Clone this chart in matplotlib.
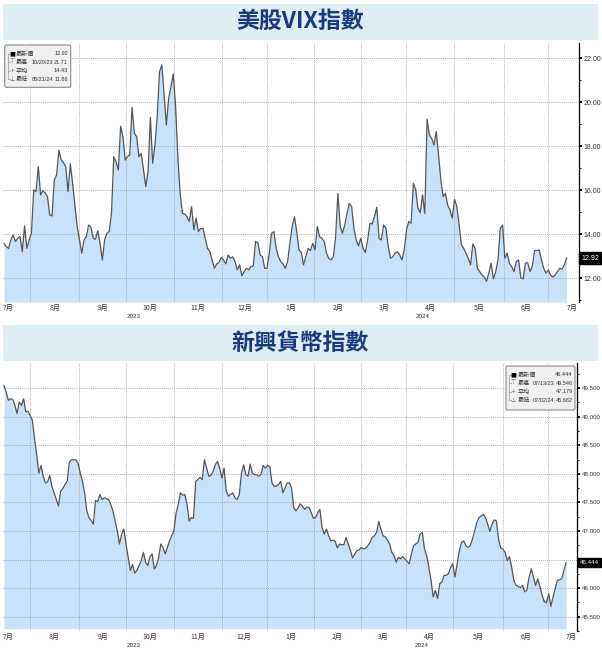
import numpy as np
import matplotlib
matplotlib.use('Agg')
import matplotlib.pyplot as plt
from matplotlib.patches import Rectangle, FancyBboxPatch
from matplotlib.lines import Line2D
from matplotlib.transforms import blended_transform_factory

plt.rcParams['font.family'] = ['Noto Sans CJK TC', 'DejaVu Sans']

# 美股VIX指數, daily closes
vix = [
    13.59, 13.44, 13.36, 13.74, 13.97, 13.67, 13.82, 13.89, 13.21, 14.38,
    13.36, 13.74, 14.05, 16.02, 15.94, 17.08, 15.79, 15.98, 15.89, 15.71,
    14.88, 14.83, 16.47, 16.70, 17.83, 17.38, 17.26, 17.08, 15.94, 17.20,
    16.32, 15.33, 14.35, 13.74, 13.14, 13.74, 13.89, 14.42, 14.32, 13.82,
    13.77, 14.17, 13.59, 12.83, 13.74, 14.05, 14.12, 14.95, 17.53, 17.30,
    16.92, 18.92, 18.44, 17.38, 17.53, 17.61, 19.77, 18.59, 18.44, 17.53,
    17.68, 16.92, 16.17, 16.85, 19.32, 17.23, 18.06, 19.35, 21.39, 21.71,
    20.33, 18.97, 20.18, 20.71, 21.29, 19.88, 17.53, 15.86, 14.95, 14.92,
    14.80, 14.58, 15.26, 14.20, 14.73, 14.12, 14.27, 14.27, 13.82, 13.36,
    13.21, 12.83, 12.45, 12.65, 12.71, 12.95, 12.83, 12.65, 13.06, 12.91,
    12.98, 12.76, 12.38, 12.61, 12.11, 12.30, 12.45, 12.38, 12.53, 12.56,
    13.67, 13.62, 13.06, 12.98, 12.45, 12.45, 13.14, 14.05, 14.12, 13.36,
    12.98, 12.76, 12.65, 12.45, 12.76, 13.59, 14.35, 14.80, 14.12, 13.29,
    13.17,
    12.61, 12.98, 13.36, 13.26, 13.59, 13.29, 14.35, 13.89, 13.82, 13.67,
    13.14, 12.91, 12.83, 12.98, 13.89, 15.86, 14.35, 14.05, 14.42, 14.95,
    15.41, 15.26, 14.27, 13.74, 13.47, 13.82, 13.36, 13.17, 13.74,
    14.50, 14.47, 14.80, 15.23, 13.82, 13.74, 14.42, 14.27,
    13.44, 12.91, 12.98, 13.14, 13.21, 13.06, 12.83, 13.29, 14.20, 14.58,
    14.50, 16.32, 16.02, 15.18, 14.98, 15.79, 14.95, 19.23, 18.52, 18.36,
    18.06, 18.67, 17.61, 16.47, 15.71, 15.86, 15.33, 15.11, 14.73, 15.59,
    15.26, 14.42, 13.52, 13.36, 13.14, 12.91, 12.61, 13.56, 13.36, 12.45,
    12.30, 12.15, 12.05, 11.86, 12.24, 12.68, 11.97, 12.30, 12.83, 14.27,
    14.42, 12.91, 13.14, 12.68, 12.53, 12.30, 12.76, 12.83, 12.02,
    11.97, 12.68, 12.71, 12.30, 12.53, 13.26, 13.26, 13.29, 12.83, 12.45,
    12.23, 12.38, 12.15, 12.05, 12.15, 12.30, 12.45, 12.41, 12.61, 12.92,
]

# 新興貨幣指數
em = [
    49.546, 49.431, 49.286, 49.315, 49.303, 49.199, 49.055, 49.257, 49.199, 49.315,
    49.084, 49.095, 49.026, 48.939, 48.621, 48.332, 48.014, 48.147, 47.957, 47.841,
    47.858, 47.974, 47.783, 47.668, 47.552, 47.436, 47.697, 47.743, 47.812, 47.870,
    48.205, 48.246, 48.246, 48.246, 48.188, 48.014, 47.870, 47.668, 47.350, 47.234,
    47.188, 47.118, 47.535, 47.512, 47.639, 47.552, 47.581, 47.569, 47.552, 47.465,
    47.350, 47.176, 47.003, 46.772, 46.945, 47.032, 46.772, 46.540, 46.309, 46.413,
    46.263, 46.309, 46.396, 46.483, 46.627, 46.454, 46.396, 46.552, 46.598, 46.338,
    46.396, 46.540, 46.772, 46.714, 46.598, 46.714, 46.830, 46.916, 47.003, 47.321,
    47.465, 47.668, 47.627, 47.639, 47.465, 47.176, 47.234, 47.223, 47.870, 47.899,
    47.939, 47.899, 48.246, 48.101, 47.957, 47.974, 48.043, 48.159, 48.217, 48.101,
    47.928, 48.101, 47.697, 47.610, 47.639, 47.668, 47.581, 47.552, 47.639, 48.014,
    48.159, 47.986, 47.957, 48.171, 48.014, 47.986, 47.986, 47.957, 47.997, 48.147,
    48.101, 48.147, 48.130, 47.841, 47.783, 47.783, 47.812, 47.870, 47.668, 47.754,
    47.841, 47.841, 47.754, 47.408, 47.350, 47.408, 47.477,
    47.436, 47.379, 47.419, 47.408, 47.321, 47.223, 47.234, 47.321, 47.379, 47.061,
    46.945, 47.032, 46.916, 46.829, 46.841, 46.818, 46.702, 46.772, 46.760, 46.760,
    46.887, 46.772, 46.656, 46.529, 46.598, 46.656, 46.668, 46.714, 46.685, 46.702,
    46.743, 46.801, 46.887, 46.916, 46.974, 47.165, 47.032, 46.916, 46.899, 46.841,
    46.772, 46.627, 46.569, 46.454, 46.540, 46.512, 46.552, 46.512, 46.471, 46.425,
    46.598, 46.743, 46.772, 46.801, 46.945, 46.974, 46.685, 46.569, 46.367, 46.136,
    45.847, 45.962, 45.818, 46.078, 46.107, 46.223, 46.223, 46.251, 46.367, 46.425,
    46.194, 46.425, 46.656, 46.801, 46.829, 46.743, 46.714, 46.743, 46.858, 47.003,
    47.147, 47.234, 47.263, 47.292, 47.234, 47.118, 46.991, 47.118, 47.194, 47.176,
    46.858, 46.702, 46.685, 46.627, 46.483, 46.552, 46.367, 46.136, 46.049, 46.032,
    46.009, 46.049, 45.934, 45.962, 46.194, 46.338, 46.194, 46.049, 46.165, 46.020,
    45.876, 45.760, 45.743, 45.905, 45.682, 45.847, 45.991, 46.136, 46.147, 46.165,
    46.309, 46.444,
]

# trading-day axis: month boundaries (gridlines) and labels
month_bounds = [11.8, 34.2, 55.5, 77.3, 99.0, 119.4, 141.0, 162.3, 182.6, 204.2, 227.0, 247.1]
month_labels = ['7月', '8月', '9月', '10月', '11月', '12月', '1月', '2月', '3月', '4月', '5月', '6月', '7月']
years = [('2023', 59), ('2024', 190)]

vix_ticks = [12, 14, 16, 18, 20, 22]
em_ticks = [45.5, 46.0, 46.5, 47.0, 47.5, 48.0, 48.5, 49.0, 49.5]

vix_stats = [('最新價', '', '12.92'), ('最高', '10/20/23', '21.71'),
             ('平均', '', '14.43'), ('最低', '05/21/24', '11.86')]
em_stats = [('最新價', '', '46.444'), ('最高', '07/13/23', '49.546'),
            ('平均', '', '47.179'), ('最低', '07/02/24', '45.682')]

NUM_FONT = ['Liberation Sans', 'DejaVu Sans']

W, H = 602, 652
fig = plt.figure(figsize=(W / 100, H / 100), dpi=100)


def box(x0, y0, x1, y1):
    return [x0 / W, 1 - y1 / H, (x1 - x0) / W, (y1 - y0) / H]


def band(y0, y1, title):
    fig.add_artist(Rectangle((3 / W, 1 - y1 / H), 595 / W, (y1 - y0) / H,
                             transform=fig.transFigure, fc='#deeef2', ec='none'))
    fig.text(300 / W, 1 - (y0 + y1) / 2 / H, title, ha='center', va='center',
             fontsize=16.5, fontweight='bold', color='#1a3a80')


def panel(ax, vals, ticks, fmt, ylim, xmax, lsize):
    x = np.linspace(0, 255.5, len(vals))
    ax.fill_between(x, vals, ylim[0], color='#c9e2fb', lw=0)
    ax.plot(x, vals, color='#555555', lw=0.9)
    ax.set_xlim(-0.45, xmax)
    ax.set_ylim(*ylim)
    for s in ['left', 'top', 'bottom']:
        ax.spines[s].set_visible(False)
    ax.spines['right'].set_linewidth(0.9)
    ax.yaxis.tick_right()
    last = vals[-1]
    ax.set_yticks(ticks)
    # the label nearest the latest-value box is hidden behind it
    ax.set_yticklabels(['' if abs(t - last) < (ticks[1] - ticks[0]) * 0.3 else fmt.format(t)
                        for t in ticks], family=NUM_FONT)
    step = ticks[1] - ticks[0]
    ax.set_yticks(np.arange(ticks[0] - step / 2, ylim[1], step / 2), minor=True)
    ax.tick_params(axis='y', which='major', length=2.5, width=1.3, pad=1,
                   labelsize=lsize, labelcolor='#333333')
    ax.tick_params(axis='y', which='minor', length=1.5, width=0.6)
    mids = [(a + b) / 2 for a, b in zip(month_bounds[:-1], month_bounds[1:])]
    pos = [2] + mids + [258]
    ax.set_xticks(pos)
    ax.set_xticklabels(month_labels)
    ax.set_xticks(month_bounds, minor=True)
    ax.tick_params(axis='x', which='both', length=0, pad=1.5, labelsize=5,
                   labelcolor='#333333')
    ax.grid(axis='x', which='minor', color='#999999', lw=0.6, ls=(0, (1, 1.5)))
    ax.grid(axis='y', which='major', color='#999999', lw=0.6, ls=(0, (1, 1.5)))
    tr = blended_transform_factory(ax.transData, ax.transAxes)
    for label, xp in years:
        ax.text(xp, -0.045 * 259 / (ax.get_position().height * H), label,
                transform=tr, ha='center', va='top', fontsize=4.5, color='#333333',
                family=NUM_FONT)
    ax.annotate(fmt.format(last), xy=(1, last),
                xycoords=blended_transform_factory(ax.transAxes, ax.transData),
                xytext=(2.2, 0), textcoords='offset points', ha='left', va='center',
                fontsize=lsize, color='white', family=NUM_FONT,
                bbox=dict(boxstyle='square,pad=0.3', fc='black', ec='black'))


def legend(x0, y0, x1, y1, stats, cols):
    fig.add_artist(FancyBboxPatch((x0 / W, 1 - y1 / H), (x1 - x0) / W, (y1 - y0) / H,
                                  boxstyle='round,pad=0,rounding_size=0.003',
                                  transform=fig.transFigure, fc='#f0f0f0',
                                  ec='#8c8c8c', lw=0.8))
    rows = [y0 + 8.5 + i * 8.6 for i in range(4)]
    sx, lx, dx, vx = cols
    fig.add_artist(Line2D([(sx - 4) / W] * 2, [1 - rows[0] / H, 1 - rows[3] / H],
                          transform=fig.transFigure, color='#999999', lw=0.5))
    syms = ['■', '⊤', '+', '⊥']
    for r, (name, date, val), sym in zip(rows, stats, syms):
        fig.add_artist(Line2D([(sx - 4) / W, (sx - 2) / W], [1 - r / H] * 2,
                              transform=fig.transFigure, color='#999999', lw=0.5))
        fig.text(sx / W, 1 - r / H, sym, ha='center', va='center', fontsize=4.5,
                 color='black' if sym == '■' else '#666666', family='DejaVu Sans')
        fig.text(lx / W, 1 - r / H, name, ha='left', va='center', fontsize=4.4, color='#333333')
        if date:
            fig.text(dx / W, 1 - r / H, date, ha='left', va='center', fontsize=4,
                     color='#333333', family=NUM_FONT)
        fig.text(vx / W, 1 - r / H, val, ha='right', va='center', fontsize=4,
                 color='#333333', family=NUM_FONT)


band(4, 39.5, '美股VIX指數')
band(325, 361, '新興貨幣指數')

ax1 = fig.add_axes(box(3, 43, 578.5, 302))
panel(ax1, vix, vix_ticks, '{:.2f}', (10.92, 22.70), 260.9, 5)

ax2 = fig.add_axes(box(3, 363, 577, 631))
panel(ax2, em, em_ticks, '{:.3f}', (45.29, 49.94), 260.45, 4.4)

legend(4.7, 45, 70.7, 87.3, vix_stats, (12, 16, 31.5, 68))
legend(506, 366, 575, 410, em_stats, (513, 518, 533, 572.5))

fig.savefig('out.png', dpi=100)
